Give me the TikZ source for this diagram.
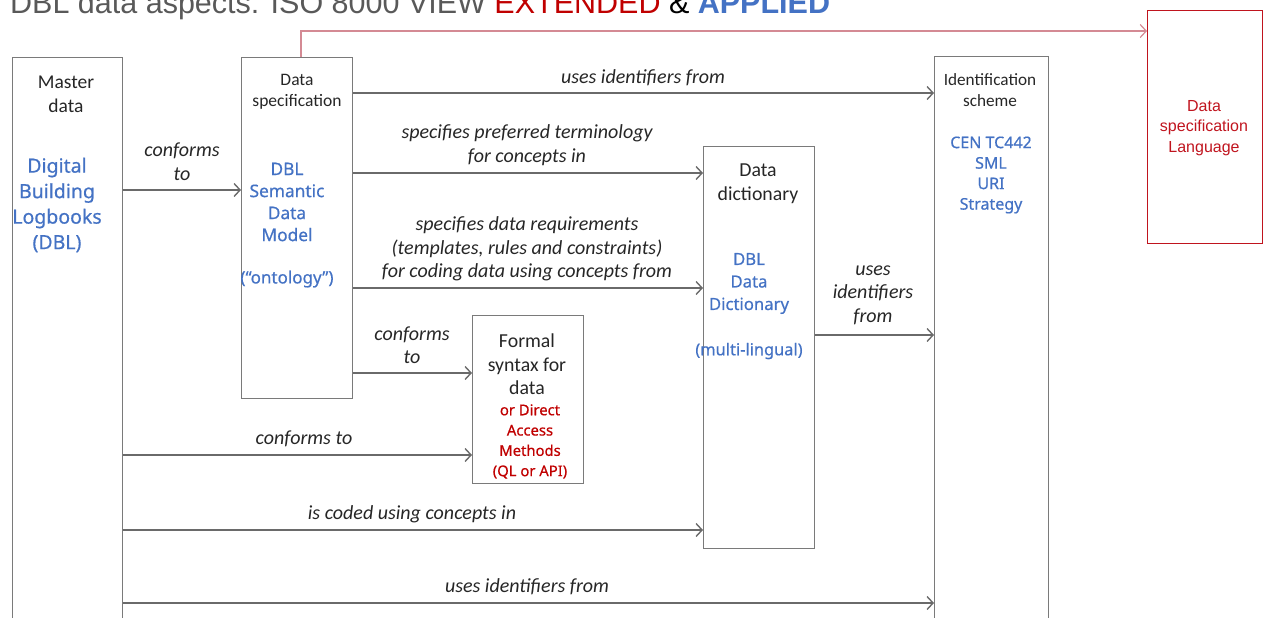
\documentclass[tikz,border=0pt]{standalone}
\usepackage{fontspec}
\setmainfont{Carlito}
\newfontfamily\arialf{Liberation Sans}
\newfontfamily\notof[FakeBold=0.6]{Noto Sans}
\usetikzlibrary{arrows.meta}
\definecolor{lgray}{HTML}{6A6A6A}
\definecolor{bgray}{HTML}{7A7A7A}
\definecolor{tgray}{HTML}{595959}
\definecolor{txt}{HTML}{262626}
\definecolor{blueT}{HTML}{4472C4}
\definecolor{redT}{HTML}{C00000}
\definecolor{redline}{HTML}{D48A94}
\definecolor{redbox}{HTML}{C0141E}
\begin{document}
\begin{tikzpicture}[x=1pt,y=-1pt,
  box/.style={draw=bgray, line width=1.4pt, anchor=north west, inner sep=0},
  arr/.style={draw=lgray, line width=1.4pt, -{Straight Barb[length=6pt,width=13pt,line width=1.4pt]}},
  lab/.style={font=\fontsize{20}{23.5}\selectfont\itshape, align=center, inner sep=0, text=txt},
  blk/.style={align=center, inner sep=0, text=txt},
  blu/.style={align=center, inner sep=0, text=blueT},
  rdt/.style={align=center, inner sep=0, text=redT}]
\useasboundingbox (0,0) rectangle (1267,618);
\clip (0,0) rectangle (1267,618);

% title
\node[anchor=base west, inner sep=0, font=\arialf\fontsize{30.5}{36}\selectfont] (title) at (10,14)
  {\textcolor{tgray}{DBL data aspects: ISO 8000 VIEW} \textcolor{redT}{EXTENDED} \textcolor{black}{\&} \textcolor{blueT}{\bfseries APPLIED}};

% boxes
\node[box, minimum width=110, minimum height=700] (master) at (12,57) {};
\node[box, minimum width=111, minimum height=341] (spec) at (241,57) {};
\node[box, minimum width=111, minimum height=168] (formal) at (472,315) {};
\node[box, minimum width=111, minimum height=402] (dict) at (703,146) {};
\node[box, minimum width=114, minimum height=700] (ident) at (934,56) {};
\node[box, draw=redbox, minimum width=115, minimum height=233] (dsl) at (1147,10) {};

% box texts
\node[blk, font=\fontsize{19.5}{24}\selectfont] (mt) at (66,94) {Master\\data};
\node[blu, font=\notof\fontsize{19.5}{25.5}\selectfont] (mb) at (57,205) {Digital\\Building\\Logbooks\\(DBL)};

\node[blk, font=\fontsize{17.5}{21}\selectfont] (st) at (297,91.5) {Data\\specification};
\node[blu, font=\notof\fontsize{17.3}{22}\selectfont] (sb) at (287,202) {DBL\\Semantic\\Data\\Model};
\node[blu, font=\notof\fontsize{17}{22}\selectfont] (so) at (287,279) {(“ontology”)};

\node[blk, font=\fontsize{19.8}{23.5}\selectfont] (ft) at (527,364.5) {Formal\\syntax for\\data};
\node[rdt, font=\notof\fontsize{14.8}{20.3}\selectfont] (fr) at (530,441.5) {or Direct\\Access\\Methods\\(QL or API)};

\node[blk, font=\fontsize{19.8}{24}\selectfont] (dt) at (758,184) {Data\\dictionary};
\node[blu, font=\notof\fontsize{16.7}{22.5}\selectfont] (db) at (749,283.5) {DBL\\Data\\Dictionary};
\node[blu, font=\notof\fontsize{16.4}{22.5}\selectfont] (dm) at (749,351) {(multi-lingual)};

\node[blk, font=\fontsize{17.2}{21}\selectfont] (it) at (990,90.5) {Identification\\scheme};
\node[blu, font=\notof\fontsize{16}{20.5}\selectfont] (ib) at (991,175) {CEN TC442\\SML\\URI\\Strategy};

\node[rdt, text=redbox, font=\arialf\fontsize{16}{20.3}\selectfont] (dslt) at (1204,128) {Data\\specification\\Language};

% connector y-levels
\coordinate (y1) at (0,190);
\coordinate (y2) at (0,93);
\coordinate (y3) at (0,173);
\coordinate (y4) at (0,288);
\coordinate (y5) at (0,373);
\coordinate (y6) at (0,455);
\coordinate (y7) at (0,530);
\coordinate (y8) at (0,603);
\coordinate (y9) at (0,335);
\coordinate (rl) at (301,31);

% connectors
\draw[arr] (master.east |- y1) -- (spec.west |- y1);
\draw[arr] (spec.east |- y2) -- (ident.west |- y2);
\draw[arr] (spec.east |- y3) -- (dict.west |- y3);
\draw[arr] (spec.east |- y4) -- (dict.west |- y4);
\draw[arr] (spec.east |- y5) -- (formal.west |- y5);
\draw[arr] (master.east |- y6) -- (formal.west |- y6);
\draw[arr] (master.east |- y7) -- (dict.west |- y7);
\draw[arr] (master.east |- y8) -- (ident.west |- y8);
\draw[arr] (dict.east |- y9) -- (ident.west |- y9);
\draw[draw=redline, line width=1.2pt, -{Straight Barb[length=6pt,width=13pt,line width=1.2pt]}]
  (spec.north -| rl) -- (rl) -- (dsl.west |- rl);

% connector labels
\node[lab] (l1) at (182,161.5) {conforms\\to};
\node[lab] (l2) at (643,78) {uses identifiers from};
\node[lab] (l3) at (527,145) {specifies preferred terminology\\for concepts in};
\node[lab] (l4) at (527,249) {specifies data requirements\\(templates, rules and constraints)\\for coding data using concepts from};
\node[lab] (l5) at (412,345) {conforms\\to};
\node[lab] (l6) at (304,439) {conforms to};
\node[lab] (l7) at (412,514) {is coded using concepts in};
\node[lab] (l8) at (527,587) {uses identifiers from};
\node[lab] (l9) at (873,295) {uses\\identifiers\\from};
\end{tikzpicture}
\end{document}
